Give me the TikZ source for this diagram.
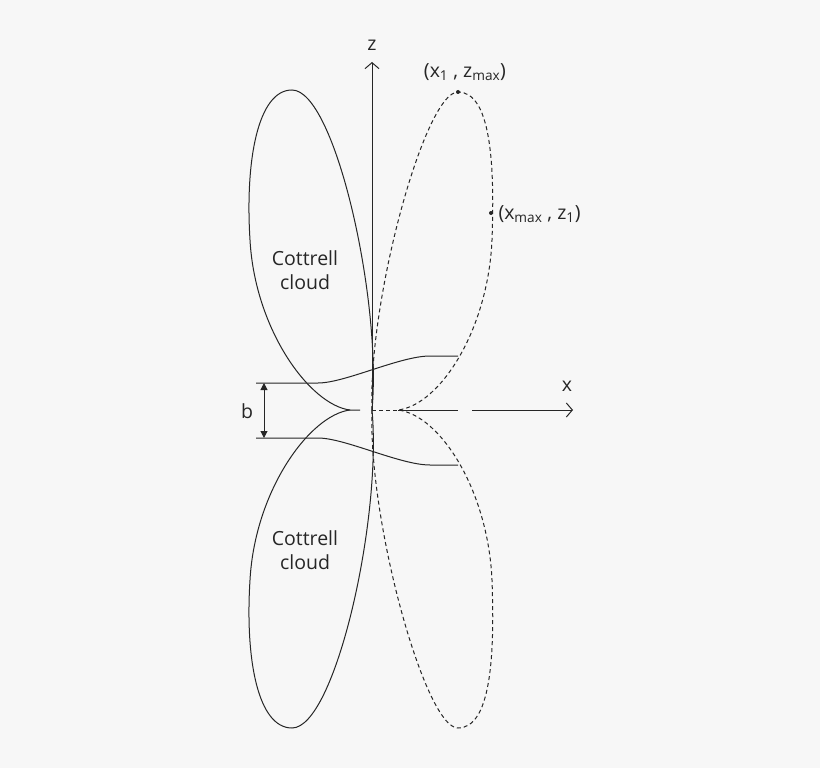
\documentclass[tikz,border=0pt]{standalone}
\usepackage{fontspec}
\setmainfont{Open Sans}
\usetikzlibrary{arrows.meta}
\begin{document}
\begin{tikzpicture}[x=1pt,y=-1pt,line width=1pt,color={black!85},
  lbl/.style={font=\fontsize{19.5}{24}\selectfont,inner sep=1pt},
  dsh/.style={dashed,dash pattern=on 4pt off 3pt}]
\useasboundingbox[fill={black!3}] (0,0) rectangle (820,768);
\coordinate (O) at (372,410);
\coordinate (ztop) at (372,62);
\coordinate (xs) at (472,410);
\coordinate (xe) at (573,410);
\draw[-{Straight Barb[length=6pt,width=14pt]}] (O) -- (ztop);
\node[lbl] (z) at (372,45) {z};
\draw[-{Straight Barb[length=6pt,width=14pt]}] (xs) -- (xe);
\node[lbl] (x) at (567,386) {x};
\draw (398,410) -- (458,410);
\draw[dsh] (O) -- (398,410);
% left lobes
\draw (O) .. controls (382,300) and (335,90) .. (292,90) .. controls (258,90) and (245,160) .. (250,240) .. controls (255,330) and (310,405) .. (350,410) -- (360,410);
\draw (O) .. controls (382,520) and (335,728) .. (292,728) .. controls (258,728) and (245,660) .. (250,580) .. controls (255,490) and (310,415) .. (350,410);
% right lobes dashed
\draw[dsh] (O) .. controls (368,300) and (425,92) .. (458,92) .. controls (490,92) and (495,160) .. (492,240) .. controls (488,330) and (440,405) .. (398,410);
\draw[dsh] (O) .. controls (368,520) and (425,728) .. (458,728) .. controls (490,728) and (495,660) .. (492,580) .. controls (488,490) and (440,415) .. (398,410);
% flux lines
\draw (256,383) -- (318,383) .. controls (345,383) and (400,356) .. (430,356) -- (458,356);
\draw (256,438) -- (318,438) .. controls (345,438) and (400,465) .. (430,465) -- (458,465);
\coordinate (b1) at (264,383);
\coordinate (b2) at (264,438);
\draw[{Triangle[length=7pt,width=7pt]}-{Triangle[length=7pt,width=7pt]}] (b1) -- (b2);
\node[lbl] (b) at (247,411) {b};
\fill (458,92) circle (2) coordinate (p1);
\fill (491,213) circle (2) coordinate (p2);
\node[lbl] (l1) at (465,72) {(x\textsubscript{1} , z\textsubscript{max})};
\node[lbl,anchor=west] (l2) at (497,214) {(x\textsubscript{max} , z\textsubscript{1})};
\node[lbl,align=center] (c1) at (305,270) {Cottrell\\cloud};
\node[lbl,align=center] (c2) at (305,550) {Cottrell\\cloud};
\end{tikzpicture}
\end{document}
